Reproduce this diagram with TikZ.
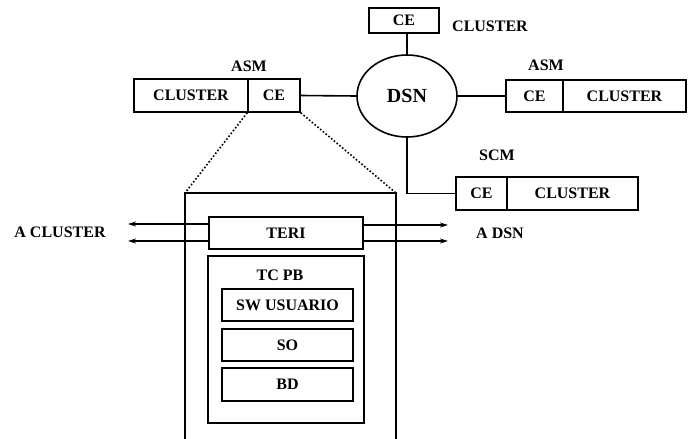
\documentclass[tikz,border=0pt]{standalone}
\usepackage{fontspec}
\setmainfont{Liberation Serif}
\usetikzlibrary{shapes.geometric,arrows.meta}
\begin{document}
\begin{tikzpicture}[x=1pt,y=-1pt,
  lw/.style={line width=1.6pt},
  txt/.style={font=\fontsize{16}{18}\selectfont\bfseries, inner sep=0pt},
  boxn/.style={draw, lw, txt, minimum height=32pt},
  arr/.style={lw, -{Stealth[length=8pt,width=5pt]}},
  dots/.style={line width=1.6pt, dotted}]
\useasboundingbox (0,0) rectangle (688,439);

% top CE
\node[boxn, minimum width=70pt, minimum height=25pt] (ceT) at (404,20.5) {CE};
\node[txt] (clT) at (490,26) {CLUSTER};

% DSN
\node[draw, lw, ellipse, minimum width=100pt, minimum height=82pt, txt, font=\fontsize{20}{22}\selectfont\bfseries] (dsn) at (407,96) {DSN};

% left ASM
\node[txt] (asmL) at (249,66) {ASM};
\node[boxn, minimum width=114pt, minimum height=33pt] (clL) at (191,95.5) {CLUSTER};
\node[boxn, minimum width=52pt, minimum height=33pt] (ceL) at (274,95.5) {CE};

% right ASM
\node[txt] (asmR) at (546,65) {ASM};
\node[boxn, minimum width=57pt] (ceR) at (534.5,96) {CE};
\node[boxn, minimum width=123pt] (clR) at (624.5,96) {CLUSTER};

% SCM
\node[txt] (scm) at (497,155) {SCM};
\node[boxn, minimum width=51pt, minimum height=33pt] (ceS) at (481.5,193.5) {CE};
\node[boxn, minimum width=131pt, minimum height=33pt] (clS) at (572.5,193.5) {CLUSTER};

% connectors
\draw[lw] (dsn.north) -- (dsn.north |- ceT.south);
\draw[lw] (ceL.east) -- (dsn.west);
\draw[lw] (dsn.east) -- (ceR.west);
\draw[lw] (dsn.south) |- (ceS.west);

% outer enclosure
\coordinate (oBL) at (185,439);
\coordinate (oTL) at (185,193);
\coordinate (oTR) at (396,193);
\coordinate (oBR) at (396,439);
\draw[lw] (oBL) -- (oTL) -- (oTR) -- (oBR);
\draw[dots] (ceL.south west) -- (oTL);
\draw[dots] (ceL.south east) -- (oTR);

% TERI
\node[boxn, minimum width=154pt] (teri) at (286,233) {TERI};
\coordinate (aL1) at (128,224);
\coordinate (aL2) at (128,241);
\coordinate (aR1) at (448,225);
\coordinate (aR2) at (448,241);
\draw[arr] (teri.west |- aL1) -- (aL1);
\draw[arr] (teri.west |- aL2) -- (aL2);
\draw[arr] (teri.east |- aR1) -- (aR1);
\draw[arr] (teri.east |- aR2) -- (aR2);
\node[txt] (acl) at (60,232) {A CLUSTER};
\node[txt] (adsn) at (500,233) {A DSN};

% TC PB
\node[draw, lw, minimum width=156pt, minimum height=167pt] (tcpb) at (286,339.5) {};
\node[txt] (tcpbL) at (280,275) {TC PB};
\node[boxn, minimum width=131pt] (sw) at (287.5,305) {SW USUARIO};
\node[boxn, minimum width=131pt] (so) at (287.5,345) {SO};
\node[boxn, minimum width=131pt, minimum height=33pt] (bd) at (287.5,384.5) {BD};
\end{tikzpicture}
\end{document}
